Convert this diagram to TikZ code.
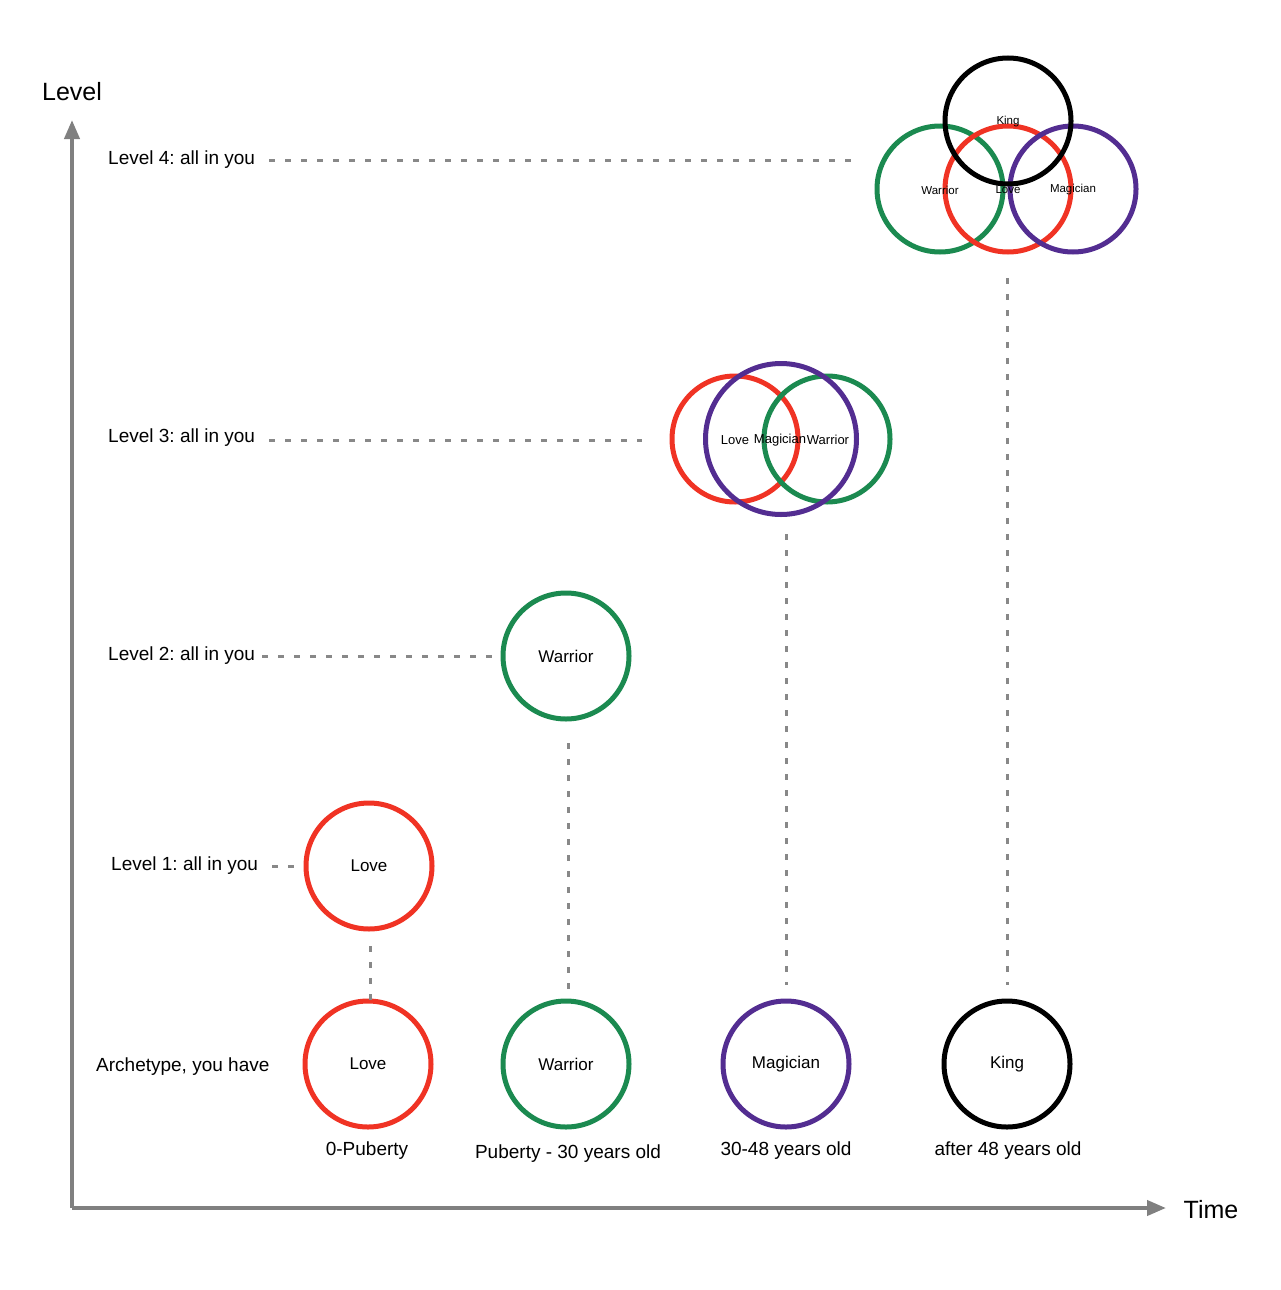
\documentclass[tikz,border=0pt]{standalone}
\usepackage{fontspec}
\setmainfont{Liberation Sans}
\frenchspacing
\usetikzlibrary{arrows.meta}
\definecolor{cred}{HTML}{F03324}
\definecolor{cgreen}{HTML}{1B8A50}
\definecolor{cpurple}{HTML}{532D91}
\definecolor{caxis}{HTML}{808080}
\definecolor{cdash}{HTML}{888888}
\begin{document}
\begin{tikzpicture}[x=1pt,y=-1pt,
  arch/.style={circle,draw,line width=5pt,minimum size=126pt,inner sep=0pt,font=\fontsize{17}{17}\selectfont},
  smallarch/.style={arch,font=\fontsize{13}{13}\selectfont},
  tinyarch/.style={arch,font=\fontsize{11.5}{11.5}\selectfont},
  lbl/.style={font=\fontsize{19}{19}\selectfont,inner sep=0pt},
  big/.style={font=\fontsize{25}{25}\selectfont,inner sep=0pt},
  guide/.style={draw=cdash,line width=3pt,dash pattern=on 6pt off 10pt},
  axis/.style={draw=caxis,line width=4pt,-{Triangle[length=19pt,width=15pt]}},
  notext/.style={text opacity=0}]
\useasboundingbox (0,0) rectangle (1280,1290);
% axes
\coordinate (O) at (72,1208);
\coordinate (ytip) at (72,120);
\coordinate (xtip) at (1166,1208);
\draw[axis] (O) -- (ytip);
\draw[axis] (O) -- (xtip);
\node[big] (ylab) at (72,92) {Level};
\node[big] (xlab) at (1211,1210) {Time};
% bottom row
\node[arch,draw=cred] (b1) at (368,1064) {Love};
\node[arch,draw=cgreen] (b2) at (566,1064) {Warrior};
\node[arch,draw=cpurple] (b3) at (786,1064) {Magician};
\node[arch,draw=black] (b4) at (1007,1064) {King};
\node[lbl] (t1) at (367,1151) {0-Puberty};
\node[lbl] (t2) at (568,1154) {Puberty - 30 years old};
\node[lbl] (t3) at (786,1151) {30-48 years old};
\node[lbl] (t4) at (1008,1151) {after 48 years old};
\node[lbl,anchor=west] (arc) at (96,1067) {Archetype, you have};
% level 1
\node[arch,draw=cred] (l1) at (369,866) {Love};
\node[lbl,anchor=west] (lv1) at (111,866) {Level 1: all in you};
% level 2
\node[arch,draw=cgreen] (l2) at (566,656) {Warrior};
\node[lbl,anchor=west] (lv2) at (108,656) {Level 2: all in you};
% level 3
\node[smallarch,draw=cred,notext] (l3a) at (735,439) {Love};
\node[smallarch,draw=cgreen,notext] (l3c) at (827,439) {Warrior};
\node[smallarch,draw=cpurple,minimum size=151pt,notext] (l3b) at (781,439) {Magician};
\node[font=\fontsize{13}{13}\selectfont,inner sep=0pt] (l3at) at (735,440) {Love};
\node[font=\fontsize{13}{13}\selectfont,inner sep=0pt] (l3bt) at (780,440) {Magician};
\node[font=\fontsize{13}{13}\selectfont,inner sep=0pt] (l3ct) at (828,440) {Warrior};
\node[lbl,anchor=west] (lv3) at (108,438) {Level 3: all in you};
% level 4
\node[tinyarch,draw=cgreen,notext] (l4w) at (940,189) {Warrior};
\node[tinyarch,draw=cred,notext] (l4l) at (1008,189) {Love};
\node[tinyarch,draw=cpurple,notext] (l4m) at (1073,189) {Magician};
\node[tinyarch,draw=black,notext] (l4k) at (1008,121) {King};
\node[font=\fontsize{11.5}{11.5}\selectfont,inner sep=0pt] (l4kt) at (1008,122) {King};
\node[font=\fontsize{11.5}{11.5}\selectfont,inner sep=0pt] (l4wt) at (940,190) {Warrior};
\node[font=\fontsize{11.5}{11.5}\selectfont,inner sep=0pt] (l4lt) at (1008,190) {Love};
\node[font=\fontsize{11.5}{11.5}\selectfont,inner sep=0pt] (l4mt) at (1073,190) {Magician};
\node[lbl,anchor=west] (lv4) at (108,160) {Level 4: all in you};
% horizontal guides
\coordinate (g4e) at (852,160);
\coordinate (g3e) at (642,440);
\draw[guide] ([xshift=14pt]lv4.east |- g4e) -- (g4e);
\draw[guide] ([xshift=14pt]lv3.east |- g3e) -- (g3e);
\draw[guide] ([xshift=7pt]lv2.east |- l2.west) -- (l2.west);
\draw[guide] ([xshift=14pt]lv1.east |- l1.west) -- (l1.west);
% vertical guides
\coordinate (v1s) at (370,946);
\coordinate (v1e) at (370,1000);
\coordinate (v2s) at (568,743);
\coordinate (v2e) at (568,990);
\coordinate (v3s) at (786,534);
\coordinate (v3e) at (786,985);
\coordinate (v4s) at (1007,278);
\coordinate (v4e) at (1007,985);
\draw[guide] (v1s) -- (v1e);
\draw[guide] (v2s) -- (v2e);
\draw[guide] (v3s) -- (v3e);
\draw[guide] (v4s) -- (v4e);
\end{tikzpicture}
\end{document}
